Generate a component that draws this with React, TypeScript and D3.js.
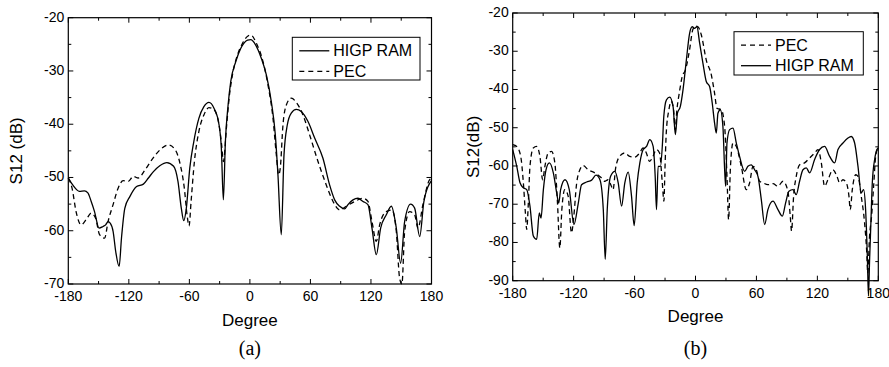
import React from "react";
import * as d3 from "d3";

// ---------- Data (degree, S12 dB) ----------
const panelA_ram: [number, number][] = [
  [-180, -50.1], [-175.6, -51.4], [-169, -52.6], [-164, -52.5], [-160.6, -52.9], [-157.3, -54.5],
  [-154, -56.4], [-149.6, -59.5], [-145.6, -59.2], [-143, -58.9], [-140.6, -58.3], [-138.3, -58.6],
  [-135.6, -60.1], [-133, -63.9], [-129.6, -66.7], [-127.3, -61.4], [-124, -55.8], [-119, -53.6],
  [-112.3, -51.7], [-105.6, -51.25], [-100.6, -50.1], [-95.6, -48.9], [-89, -47.75], [-82.3, -47.2],
  [-75.6, -47.9], [-71.3, -50.75], [-68, -55.75], [-65.6, -58.1], [-63, -55.75], [-59.6, -48.25],
  [-55.6, -43.25], [-50.6, -38.9], [-45.6, -36.7], [-40.6, -35.9], [-35.6, -37], [-30.6, -40.1],
  [-28.3, -44.5], [-26.3, -54.2], [-24.3, -43.25], [-21.6, -36.4], [-19, -32], [-14, -28.25],
  [-9, -25.75], [-2.3, -24.2], [1, -24.1], [4.7, -24.8], [11.3, -27.6], [16.3, -30.75],
  [21.2, -35.75], [25.2, -42], [27.8, -49.5], [31.1, -60.75], [33.8, -45.75], [37.1, -40.1],
  [41, -37.9], [46, -37.2], [50.9, -37.6], [57.6, -39.5], [64.2, -42.6], [72.4, -46.4],
  [79, -51.4], [84, -54.2], [89, -55.4], [93.9, -55.9], [97.2, -55.1], [102.2, -54.2],
  [107.1, -53.9], [112.1, -54.5], [117, -55.1], [121, -59.5], [125.3, -64.5], [129.6, -59.5],
  [135.2, -57], [140.2, -55.4], [145.1, -59.5], [149.4, -66.1], [153.4, -58.25], [159.3, -55],
  [163.3, -55.75], [168.3, -61.1], [172.5, -54.5], [180, -50.6],
];

const panelA_pec: [number, number][] = [
  [-180, -50.1], [-176.3, -52], [-172.3, -56.4], [-167.3, -58.9], [-162.3, -57.9], [-157.3, -56.7],
  [-153, -57.6], [-149, -60.75], [-144, -61.4], [-140.6, -58.3], [-135.6, -55.1], [-130.6, -52],
  [-125.6, -50.6], [-120.6, -50.75], [-115.6, -49.8], [-110.6, -50.1], [-104, -48.6], [-97.3, -46.7],
  [-89, -44.8], [-80.6, -43.9], [-74, -44.8], [-69, -47.6], [-65, -52], [-62.3, -57], [-60.3, -59.1],
  [-58.3, -54.5], [-55, -47], [-50.6, -41.4], [-45.6, -38.25], [-40.6, -36.9], [-35.6, -37.3],
  [-30.6, -40.1], [-28, -43.9], [-26.3, -47], [-23, -40.1], [-20.6, -35.1], [-17.3, -30.75],
  [-12.3, -27], [-7.3, -24.8], [-3, -23.6], [1, -23.25], [6.4, -24.8], [13, -28.25], [17.9, -32.6],
  [22.9, -38.9], [26.2, -45.75], [28.5, -49.5], [30.1, -48.25], [32.8, -40.1], [36.1, -36.4],
  [41, -35.1], [46, -35.9], [52.6, -38.25], [59.2, -42], [67.5, -47], [75.7, -51.4], [82.4, -54.5],
  [89, -56.1], [95.6, -55.4], [103.9, -54.5], [112.1, -53.9], [117, -54.5], [121, -58.25],
  [125.3, -62], [128.6, -58.9], [135.2, -56.4], [140.8, -56.1], [145.1, -60.1], [148.4, -68.9],
  [150.7, -70], [153.4, -60.1], [158.3, -56.4], [163.3, -57], [166.6, -59.5], [171.5, -55.1],
  [178.2, -50.4], [180, -50.2],
];

const panelB_ram: [number, number][] = [
  [-180, -55.7], [-176, -60.1], [-172.8, -64.4], [-169.5, -65.7], [-166.2, -66.2], [-163, -70.5],
  [-159.7, -78.3], [-156.4, -79.2], [-153.8, -72.3], [-152.1, -73.6], [-149.8, -66.2], [-147.2, -61],
  [-143.9, -59.2], [-140, -61.8], [-136.7, -67], [-134.7, -69.7], [-132.8, -66.2], [-128.5, -63.6],
  [-124.3, -66.2], [-119.7, -75.3], [-115.4, -69.7], [-112.2, -64.9], [-107.2, -64.2], [-102.3, -63.7],
  [-98, -62.4], [-94.1, -63.6], [-90.8, -71.4], [-88.9, -84.4], [-86.9, -71.4], [-83.6, -62.7],
  [-79.4, -61.4], [-76.1, -64.4], [-72.8, -70.5], [-69.6, -64.4], [-66.3, -61.6], [-63, -67.9],
  [-60.4, -75.6], [-57.4, -64.4], [-54.8, -59.2], [-51.5, -55.7], [-48.2, -54.9], [-45, -53.1],
  [-41.7, -54.9], [-39.7, -62.7], [-38.4, -71.4], [-36.8, -60.1], [-34.5, -60.1], [-32.5, -54],
  [-31.2, -47], [-28.6, -42.7], [-25.4, -42], [-22.1, -44.4], [-19.8, -51.8], [-17.8, -46.2],
  [-14.9, -44.4], [-12.3, -40.1], [-9, -32.3], [-5.8, -25.3], [-3.2, -23.6], [-0.9, -24],
  [1.4, -23.6], [4.1, -27.9], [7.3, -33.1], [10.6, -37.9], [13.9, -39.2], [16.5, -43.6],
  [18.8, -48.8], [20.5, -51.4], [22.1, -46.2], [24.4, -45.3], [27, -49.7], [28.7, -61],
  [29.7, -65.3], [31, -54], [33.6, -50.5], [36.9, -50.1], [40.2, -54], [43.4, -57.5], [48.4, -61.4],
  [51.6, -60.1], [54.9, -59.7], [58.2, -61], [61.5, -62.7], [64.8, -68.8], [68.1, -75.3],
  [71.3, -71.4], [76.3, -69.2], [81.2, -71.4], [85.5, -73.1], [88.7, -69.7], [92, -66.6],
  [96, -66.2], [99.2, -67.5], [102.5, -64], [105.8, -61], [109.1, -60.5], [112.4, -61.8],
  [117.3, -58.3], [122.2, -55.7], [127.1, -54.9], [132.1, -57.5], [137, -59.2], [140.3, -55.7],
  [145.2, -54], [150.1, -52.7], [153.4, -52.3], [156.7, -54], [160, -60.1], [163.2, -67],
  [165.5, -66.2], [167.5, -71.4], [169.3, -84.4], [170.3, -94], [171.5, -84], [172.6, -75.7],
  [174.1, -64.4], [176.4, -58.3], [178.7, -55.7], [180, -55.3],
];

const panelB_pec: [number, number][] = [
  [-180, -54.4], [-176, -54.9], [-172.1, -57.5], [-169.5, -64.4], [-167.5, -72.3], [-166.2, -76.6],
  [-164.6, -69.7], [-163, -60.1], [-159.7, -55.3], [-156.4, -54.9], [-153.2, -57.5], [-150.5, -63.6],
  [-148.3, -60.1], [-145, -56.6], [-141.7, -56.2], [-138.5, -59.2], [-135.9, -69.7], [-133.6, -81.4],
  [-131.6, -71.4], [-128.7, -66.2], [-125.4, -67.9], [-122.1, -77.5], [-119.8, -73.1], [-117.2, -64.9],
  [-113.9, -61], [-110.6, -59.9], [-105.7, -61], [-99.2, -61.8], [-92.7, -63.1], [-89.4, -64],
  [-86.1, -63.6], [-82.8, -65.3], [-81.2, -66.2], [-78.6, -60.5], [-74.7, -57.5], [-69.7, -56.6],
  [-64.8, -57.5], [-59.9, -57.7], [-55, -56.6], [-51.7, -55.3], [-48.4, -56.6], [-45.2, -58.8],
  [-41.9, -57.5], [-38.6, -55.7], [-35.4, -56.6], [-32.7, -64.4], [-31.1, -69.2], [-30.1, -61],
  [-28.8, -51.4], [-26.2, -45.3], [-23.9, -43.1], [-21.6, -45.3], [-20, -50.5], [-18.3, -45.3],
  [-15.7, -40.5], [-13.1, -36.6], [-9.9, -34.9], [-5.9, -29.7], [-2.7, -24.4], [0, -23.4],
  [2.4, -23.6], [5.7, -25.7], [10.6, -32.3], [15.6, -36.2], [18.8, -41], [21.1, -44.9],
  [25.4, -45.3], [28.7, -49.7], [31, -62.7], [32.6, -74], [34.3, -61], [36.9, -54], [40.2, -54.9],
  [45.1, -60.1], [50, -66.2], [53.3, -64.4], [56.6, -60.1], [59.9, -61], [63.1, -64], [66.4, -64.4],
  [71.3, -64.9], [76.3, -64.6], [81.2, -65.3], [86.1, -64], [91, -66.6], [93.3, -73.1], [94.6, -77],
  [96.6, -67.9], [99.2, -62.7], [102.5, -59.7], [107.4, -59.2], [112.4, -57.9], [117.3, -56.6],
  [120.6, -55.7], [123.9, -59.2], [127.1, -65.3], [130.4, -63.6], [135.3, -61], [139.3, -62.7],
  [141.9, -64.4], [145.2, -63.6], [148.5, -64.4], [151.1, -67.9], [152.4, -71.4], [154.4, -66.2],
  [157.7, -62.3], [160, -62.7], [163.2, -67.9], [166.5, -74.9], [168.5, -82], [169.6, -88],
  [171.4, -78.3], [173.4, -73.1], [175.4, -65.3], [177.4, -57.5], [179, -55.7], [180, -55.5],
];

const xTicks = [-180, -120, -60, 0, 60, 120, 180];
const yTicksA = [-20, -30, -40, -50, -60, -70];
const yTicksB = [-20, -30, -40, -50, -60, -70, -80, -90];

const FONT = "Liberation Sans, Arial, Helvetica, sans-serif";

type PanelProps = {
  x0: number; x1: number; y0: number; y1: number;
  yMin: number; yMax: number; yTicks: number[];
  ram: [number, number][]; pec: [number, number][];
  ylabel: string; tag: string; xlabOff: number; ylabOff: number;
  legend: { x: number; y: number; w: number; h: number; order: ("ram" | "pec")[] };
};

function Panel(p: PanelProps) {
  const x = d3.scaleLinear().domain([-180, 180]).range([p.x0, p.x1]);
  const y = d3.scaleLinear().domain([p.yMax, p.yMin]).range([p.y0, p.y1]);
  const line = d3.line<[number, number]>()
    .x((d) => x(d[0]))
    .y((d) => y(d[1]))
    .curve(d3.curveMonotoneX);
  const xMinor = d3.range(-150, 180, 60);
  const yMinor = d3.range(p.yMin + 5, p.yMax, 10);
  const maj = 5, min = 3;
  const cx = (p.x0 + p.x1) / 2;
  const cy = (p.y0 + p.y1) / 2;
  const L = p.legend;
  const labels = { ram: "HIGP RAM", pec: "PEC" };
  return (
    <g>
      <path d={line(p.pec) || ""} fill="none" stroke="#000" strokeWidth={1.3} strokeDasharray="5,3.5" />
      <path d={line(p.ram) || ""} fill="none" stroke="#000" strokeWidth={1.3} />
      <rect x={p.x0} y={p.y0} width={p.x1 - p.x0} height={p.y1 - p.y0} fill="none" stroke="#000" strokeWidth={1.2} />
      {xTicks.map((t) => (
        <g key={"xt" + t}>
          <line x1={x(t)} x2={x(t)} y1={p.y1} y2={p.y1 - maj} stroke="#000" strokeWidth={1} />
          <line x1={x(t)} x2={x(t)} y1={p.y0} y2={p.y0 + maj} stroke="#000" strokeWidth={1} />
          <text x={x(t)} y={p.y1 + p.xlabOff} textAnchor="middle" fontSize={14} fontFamily={FONT}>{t}</text>
        </g>
      ))}
      {xMinor.map((t) => (
        <g key={"xm" + t}>
          <line x1={x(t)} x2={x(t)} y1={p.y1} y2={p.y1 - min} stroke="#000" strokeWidth={1} />
          <line x1={x(t)} x2={x(t)} y1={p.y0} y2={p.y0 + min} stroke="#000" strokeWidth={1} />
        </g>
      ))}
      {p.yTicks.map((t) => (
        <g key={"yt" + t}>
          <line x1={p.x0} x2={p.x0 + maj} y1={y(t)} y2={y(t)} stroke="#000" strokeWidth={1} />
          <line x1={p.x1} x2={p.x1 - maj} y1={y(t)} y2={y(t)} stroke="#000" strokeWidth={1} />
          <text x={p.x0 - 4} y={y(t) - 1} dy="0.35em" textAnchor="end" fontSize={14} fontFamily={FONT}>{t}</text>
        </g>
      ))}
      {yMinor.map((t) => (
        <g key={"ym" + t}>
          <line x1={p.x0} x2={p.x0 + min} y1={y(t)} y2={y(t)} stroke="#000" strokeWidth={1} />
          <line x1={p.x1} x2={p.x1 - min} y1={y(t)} y2={y(t)} stroke="#000" strokeWidth={1} />
        </g>
      ))}
      <text x={cx} y={p.y1 + 41.5} textAnchor="middle" fontSize={17} fontFamily={FONT}>Degree</text>
      <text transform={`translate(${p.x0 - p.ylabOff},${cy}) rotate(-90)`} textAnchor="middle" fontSize={17} fontFamily={FONT}>{p.ylabel}</text>
      <text x={cx} y={355} textAnchor="middle" fontSize={20} fontFamily="Liberation Serif, Times New Roman, serif">{p.tag}</text>
      <rect x={L.x} y={L.y} width={L.w} height={L.h} fill="#fff" stroke="#000" strokeWidth={1} />
      {L.order.map((k, i) => (
        <g key={k}>
          <line x1={L.x + 7} x2={L.x + 37} y1={L.y + 13.5 + i * 20.5} y2={L.y + 13.5 + i * 20.5}
            stroke="#000" strokeWidth={1.3} strokeDasharray={k === "pec" ? "5,4" : undefined} />
          <text x={L.x + 41} y={L.y + 19 + i * 20.5} fontSize={16} fontFamily={FONT}>{labels[k]}</text>
        </g>
      ))}
    </g>
  );
}

export default function App() {
  return (
    <svg width={889} height={367} style={{ position: "absolute", left: 0, top: 0, background: "#fff" }}>
      <rect width={889} height={367} fill="#fff" />
      <Panel x0={68.3} x1={431.5} y0={17.7} y1={284} yMin={-70} yMax={-20} yTicks={yTicksA}
        ram={panelA_ram} pec={panelA_pec} ylabel="S12 (dB)" tag="(a)" xlabOff={16.5} ylabOff={46}
        legend={{ x: 292.3, y: 37.3, w: 127.7, h: 42.7, order: ["ram", "pec"] }} />
      <Panel x0={512.7} x1={878.3} y0={13} y1={280.7} yMin={-90} yMax={-20} yTicks={yTicksB}
        ram={panelB_ram} pec={panelB_pec} ylabel="S12(dB)" tag="(b)" xlabOff={17.5} ylabOff={34}
        legend={{ x: 734, y: 31.7, w: 129.3, h: 43.3, order: ["pec", "ram"] }} />
    </svg>
  );
}
